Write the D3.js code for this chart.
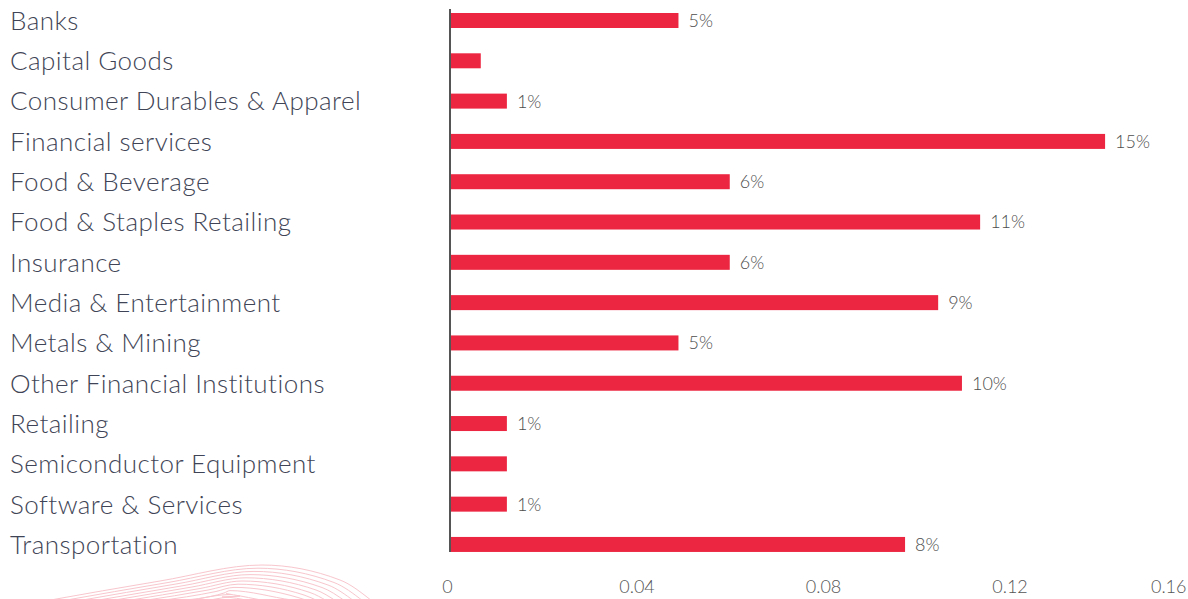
<!DOCTYPE html>
<html>
<head>
<meta charset="utf-8">
<script src="https://cdn.jsdelivr.net/npm/d3@7"></script>
<style>
  body { margin: 0; background: #fff; }
  svg { display: block; }
</style>
</head>
<body>
<svg class="chart"></svg>
<script>
const width = 1188;
const height = 599;

const categories = [
  'Banks', 'Capital Goods', 'Consumer Durables & Apparel', 'Financial services',
  'Food & Beverage', 'Food & Staples Retailing', 'Insurance', 'Media & Entertainment',
  'Metals & Mining', 'Other Financial Institutions', 'Retailing',
  'Semiconductor Equipment', 'Software & Services', 'Transportation'
];
const values = [0.049, 0.0066, 0.0122, 0.1405, 0.060, 0.1137, 0.060, 0.1047,
  0.049, 0.1098, 0.0122, 0.0122, 0.0122, 0.0976];
const valueLabels = ['5%', '', '1%', '15%', '6%', '11%', '6%', '9%', '5%', '10%', '1%', '', '1%', '8%'];
const ticks = [0, 0.04, 0.08, 0.12, 0.16];

const rows = categories.map((c, i) => ({ name: c, value: values[i], label: valueLabels[i] }));

const svg = d3.select('.chart').attr('width', width).attr('height', height);

// faint decorative arcs, bottom left
const deco = svg.append('g').attr('fill', 'none').attr('stroke', '#f8c6cd').attr('stroke-width', 1);
const arc = d3.line().curve(d3.curveMonotoneX);
d3.range(11).forEach(i => {
  const pts = [
    [45 + i * 16, 601],
    [160 + i * 8, 581 + i * 1.5],
    [262 - i * 4, 565 + i * 3.2],
    [340 - i * 6, 580 + i * 2.5],
    [372 - i * 9, 601]
  ];
  deco.append('path').attr('d', arc(pts));
});

const x = d3.scaleLinear().domain([0, 0.16]).range([450, 1196]);
const y = d3.scaleBand().domain(categories).range([0.35, 564.6])
  .paddingInner(0.628).paddingOuter(0.314);

svg.append('g')
  .selectAll('rect')
  .data(rows)
  .enter()
  .append('rect')
  .attr('x', x(0))
  .attr('y', d => y(d.name))
  .attr('width', d => x(d.value) - x(0))
  .attr('height', y.bandwidth())
  .attr('fill', '#ec2540');

svg.append('g')
  .selectAll('text')
  .data(rows)
  .enter()
  .append('text')
  .attr('x', d => x(d.value) + 10)
  .attr('y', d => y(d.name) + y.bandwidth() / 2)
  .attr('dy', '0.36em')
  .style('font-family', 'Lato, sans-serif')
  .style('font-weight', 300)
  .style('font-size', '18px')
  .style('fill', '#4d4d4d')
  .text(d => d.label);

svg.append('g')
  .selectAll('text')
  .data(rows)
  .enter()
  .append('text')
  .attr('x', 10)
  .attr('y', d => y(d.name) + y.bandwidth() / 2)
  .attr('dy', '0.36em')
  .style('font-family', 'Lato, sans-serif')
  .style('font-weight', 300)
  .style('font-size', '26px')
  .style('letter-spacing', '0.45px')
  .style('fill', '#3f4556')
  .text(d => d.name);

// vertical axis line
svg.append('line')
  .attr('x1', x(0)).attr('x2', x(0))
  .attr('y1', y(categories[0]) - 4)
  .attr('y2', y(categories[categories.length - 1]) + y.bandwidth())
  .attr('stroke', '#555')
  .attr('stroke-width', 2);

const xAxis = svg.append('g')
  .attr('transform', 'translate(0,580)')
  .call(d3.axisBottom(x).tickValues(ticks).tickSize(0).tickPadding(0).tickFormat(d => d === 0 ? '0' : d3.format('.2f')(d)));
xAxis.select('.domain').remove();
xAxis.selectAll('text')
  .style('font-family', 'Lato, sans-serif')
  .style('font-weight', 300)
  .style('font-size', '18px')
  .style('fill', '#555');
xAxis.selectAll('.tick').filter(d => d === 0.16).select('text')
  .attr('text-anchor', 'end')
  .attr('x', width - 2 - x(0.16));
xAxis.selectAll('.tick').filter(d => d === 0).select('text').attr('x', -3);
</script>
</body>
</html>
